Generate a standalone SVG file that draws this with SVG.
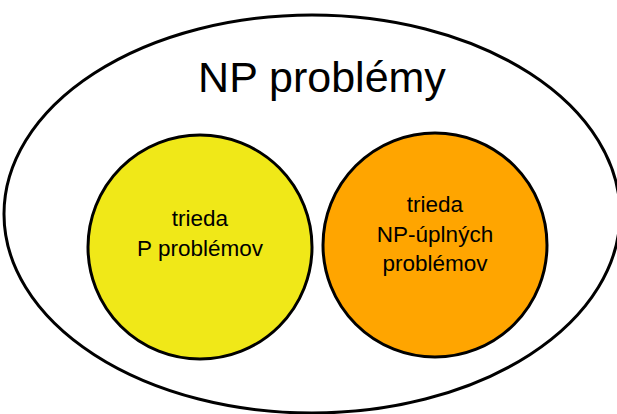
<svg xmlns="http://www.w3.org/2000/svg" width="617" height="414" viewBox="0 0 617 414">
<style>
text{font-family:"Liberation Sans",Arial,sans-serif;fill:#000;text-anchor:middle}
.c{stroke:#000;stroke-width:3}
.s{font-size:22.5px}
</style>
<rect width="617" height="414" fill="#fff"/>
<g id="np">
<ellipse cx="312" cy="214" rx="308" ry="199" fill="#fff" stroke="#000" stroke-width="3"/>
<text x="322" y="92" font-size="43">NP problémy</text>
</g>
<g id="p">
<circle cx="200" cy="247" r="112" fill="#f0e818" class="c"/>
<text class="s" x="200" y="226">trieda</text>
<text class="s" x="200" y="256">P problémov</text>
</g>
<g id="npc">
<circle cx="435" cy="245" r="112" fill="#ffa500" class="c"/>
<text class="s" x="435" y="212">trieda</text>
<text class="s" x="435" y="242">NP-úplných</text>
<text class="s" x="435" y="271">problémov</text>
</g>
<g id="connectors"/>
</svg>
